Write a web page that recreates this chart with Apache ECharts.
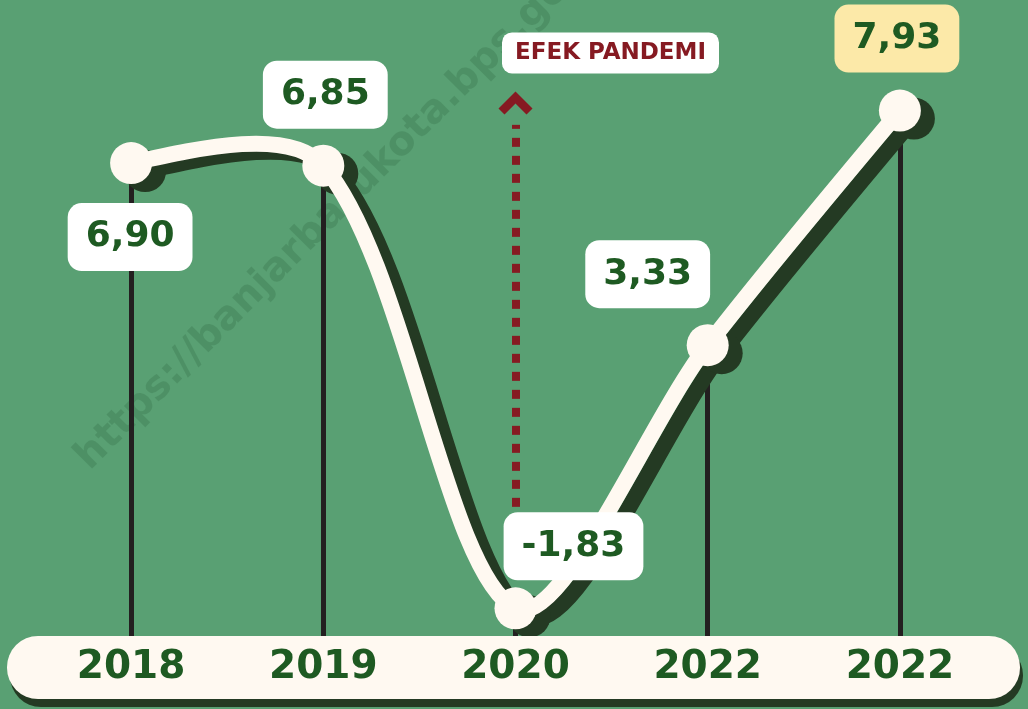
<!DOCTYPE html>
<html>
<head>
<meta charset="utf-8">
<script src="https://cdn.jsdelivr.net/npm/echarts@6/dist/echarts.min.js"></script>
<style>
  html, body { margin: 0; padding: 0; background: #59a073; }
  #chart { width: 1028px; height: 709px; }
</style>
</head>
<body>
<div id="chart"></div>
<script>
// tahun
const years = ['2018', '2019', '2020', '2022', '2022'];
// pertumbuhan ekonomi (%)
const growth = [6.90, 6.85, -1.83, 3.33, 7.93];
// teks label
const growthLabels = ['6,90', '6,85', '-1,83', '3,33', '7,93'];
// anotasi
const noteText = 'EFEK PANDEMI';
const noteIndex = 2;

const BG = '#59a073';
const CREAM = '#fff9f1';
const SHADOW = '#243a23';
const GREEN = '#1e5a22';
const RED = '#861a22';
const FONT = '"DejaVu Sans", sans-serif';
const SMOOTH = 0.3;
const END_SMOOTH = 0.45;

const yMin = -2.5, yMax = 10, floorVal = -2.45;

// posisi kotak label terhadap titik
const boxOffset = [[-1, 74], [2, -71], [58, -62], [-60, -71], [-3, -72]];
const boxColor = ['#ffffff', '#ffffff', '#ffffff', '#ffffff', '#fce9a8'];

// kurva halus tanpa batasan titik kontrol
function smoothPath(pts, s) {
  const n = pts.length;
  const cpIn = [], cpOut = [];
  for (let i = 0; i < n; i++) {
    const p = pts[i];
    const prev = pts[Math.max(i - 1, 0)];
    const next = pts[Math.min(i + 1, n - 1)];
    const vx = next[0] - prev[0], vy = next[1] - prev[1];
    const lp = Math.hypot(p[0] - prev[0], p[1] - prev[1]);
    const ln = Math.hypot(next[0] - p[0], next[1] - p[1]);
    const r = ln / (lp + ln);
    cpIn.push([p[0] - vx * s * (1 - r), p[1] - vy * s * (1 - r)]);
    cpOut.push([p[0] + vx * s * r, p[1] + vy * s * r]);
  }
  // ujung: arahkan ke titik kontrol tetangga
  const a = pts[0], b = pts[n - 1];
  cpOut[0] = [a[0] + (cpIn[1][0] - a[0]) * END_SMOOTH, a[1] + (cpIn[1][1] - a[1]) * END_SMOOTH];
  cpIn[n - 1] = [b[0] + (cpOut[n - 2][0] - b[0]) * END_SMOOTH, b[1] + (cpOut[n - 2][1] - b[1]) * END_SMOOTH];
  let d = 'M' + a[0] + ',' + a[1];
  for (let i = 1; i < n; i++) {
    d += ' C' + cpOut[i - 1].join(',') + ' ' + cpIn[i].join(',') + ' ' + pts[i].join(',');
  }
  return d;
}

function curve(color) {
  return function (params, api) {
    if (params.dataIndex !== 0) return null;
    const pts = growth.map((v, i) => api.coord([i, v]));
    return {
      type: 'path',
      shape: { pathData: smoothPath(pts, SMOOTH) },
      style: { fill: 'none', stroke: color, lineWidth: 16, lineJoin: 'round', lineCap: 'round' }
    };
  };
}

const chart = echarts.init(document.getElementById('chart'));

const option = {
  backgroundColor: BG,
  animation: false,
  grid: [
    { left: 35, right: 32, top: 5, bottom: 66.5 },
    // grid bayangan
    { left: 49, right: 18, top: 13, bottom: 58.5 }
  ],
  xAxis: [{
    type: 'category',
    gridIndex: 0,
    data: years,
    z: 10,
    axisLine: { show: false },
    axisTick: { show: false },
    axisLabel: {
      margin: 25,
      verticalAlign: 'middle',
      fontSize: 39,
      fontWeight: 'bold',
      fontFamily: FONT,
      color: GREEN
    }
  }, {
    type: 'category',
    gridIndex: 1,
    data: years,
    show: false
  }],
  yAxis: [
    { type: 'value', gridIndex: 0, min: yMin, max: yMax, show: false },
    { type: 'value', gridIndex: 1, min: yMin, max: yMax, show: false }
  ],
  graphic: [{
    type: 'text',
    x: 343,
    y: 203,
    rotation: Math.PI / 4,
    z: 0,
    silent: true,
    style: {
      text: 'https://banjarbarukota.bps.go.id',
      font: 'bold 40px "DejaVu Sans"',
      fill: 'rgba(40,95,58,0.24)',
      align: 'center',
      verticalAlign: 'middle'
    }
  }, {
    type: 'rect',
    z: 5,
    silent: true,
    shape: { x: 10, y: 644, width: 1013, height: 63, r: 31 },
    style: { fill: SHADOW }
  }, {
    type: 'rect',
    z: 6,
    silent: true,
    shape: { x: 7, y: 636, width: 1013, height: 63, r: 31 },
    style: { fill: CREAM }
  }],
  series: [{
    // bayangan garis
    type: 'custom',
    xAxisIndex: 1,
    yAxisIndex: 1,
    data: growth.map((v, i) => [i, v]),
    renderItem: curve(SHADOW),
    silent: true,
    z: 2
  }, {
    type: 'scatter',
    xAxisIndex: 1,
    yAxisIndex: 1,
    data: growth,
    symbolSize: 42,
    silent: true,
    z: 2,
    itemStyle: { color: SHADOW, opacity: 1 }
  }, {
    type: 'custom',
    xAxisIndex: 0,
    yAxisIndex: 0,
    data: growth.map((v, i) => [i, v]),
    renderItem: curve(CREAM),
    silent: true,
    z: 3
  }, {
    type: 'scatter',
    xAxisIndex: 0,
    yAxisIndex: 0,
    data: growth.map((v, i) => ({
      value: v,
      label: { offset: boxOffset[i], backgroundColor: boxColor[i] }
    })),
    symbolSize: 42,
    silent: true,
    z: 4,
    itemStyle: { color: CREAM, opacity: 1 },
    label: {
      show: true,
      position: 'inside',
      formatter: p => growthLabels[p.dataIndex],
      fontSize: 36,
      fontWeight: 'bold',
      fontFamily: FONT,
      color: GREEN,
      lineHeight: 40,
      padding: [14, 18, 14, 18],
      borderRadius: 14
    },
    markLine: {
      silent: true,
      symbol: 'none',
      z: 1,
      animation: false,
      label: { show: false },
      lineStyle: { color: '#231f20', width: 5, type: 'solid' },
      data: growth.map((v, i) => [
        { coord: [i, v] },
        { coord: [i, floorVal] }
      ]).concat([[
        { coord: [noteIndex, 0.16], lineStyle: { color: RED, width: 8, type: [9, 9] } },
        { coord: [noteIndex, 7.65] }
      ]])
    },
    markPoint: {
      silent: true,
      z: 4,
      animation: false,
      data: [{
        coord: [noteIndex, 8.08],
        symbol: 'path://M0,17 L17,0 L34,17 L28,23 L17,12 L6,23 Z',
        symbolSize: [34, 23],
        itemStyle: { color: RED },
        label: {
          show: true,
          position: 'inside',
          offset: [95, -50],
          formatter: noteText,
          fontSize: 23,
          fontWeight: 'bold',
          fontFamily: FONT,
          color: RED,
          backgroundColor: '#ffffff',
          borderRadius: 10,
          lineHeight: 27,
          padding: [7, 13, 7, 13]
        }
      }]
    }
  }]
};

chart.setOption(option);
</script>
</body>
</html>
